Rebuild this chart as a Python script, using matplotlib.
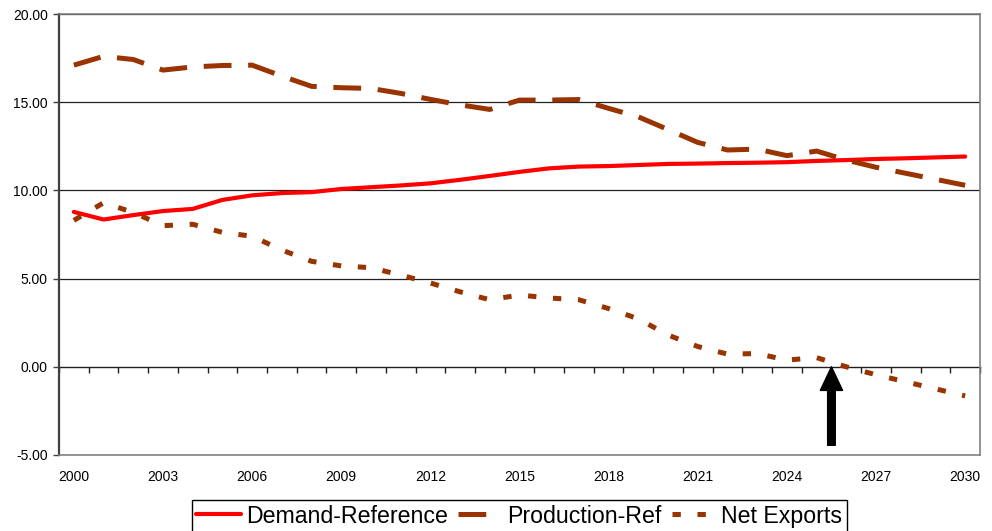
import matplotlib
matplotlib.use("Agg")
import matplotlib.pyplot as plt
import numpy as np

plt.rcParams['font.family'] = ['Liberation Sans', 'DejaVu Sans']
plt.rcParams['lines.scale_dashes'] = False

years = list(range(2000, 2031))

demand_ref = [8.78, 8.35, 8.60, 8.83, 8.95, 9.46, 9.72, 9.85, 9.90, 10.08,
              10.18, 10.28, 10.40, 10.60, 10.82, 11.05, 11.25, 11.35, 11.38, 11.44,
              11.50, 11.52, 11.55, 11.57, 11.60, 11.67, 11.72, 11.78, 11.82, 11.87,
              11.92]

production_ref = [17.10, 17.60, 17.42, 16.82, 17.00, 17.08, 17.10, 16.48, 15.90, 15.82,
                  15.78, 15.50, 15.16, 14.85, 14.59, 15.12, 15.12, 15.15, 14.65, 14.17,
                  13.45, 12.72, 12.29, 12.34, 11.97, 12.23, 11.72, 11.31, 10.97, 10.63,
                  10.29]

net_exports = [8.30, 9.30, 8.75, 8.00, 8.08, 7.62, 7.40, 6.62, 5.98, 5.72,
               5.62, 5.20, 4.75, 4.25, 3.80, 4.07, 3.90, 3.80, 3.30, 2.72,
               1.80, 1.15, 0.72, 0.75, 0.38, 0.52, 0.00, -0.45, -0.85, -1.25,
               -1.65]

year_labels = list(range(2000, 2031, 3))
peak_year = 2025.5

fig = plt.figure(figsize=(9.92, 5.31), dpi=100)
ax = fig.add_axes([59 / 992, 76 / 531, 921 / 992, 441 / 531])

ax.plot(years, demand_ref, color='#FF0000', lw=3.0, solid_capstyle='round',
        solid_joinstyle='round', label='Demand-Reference', zorder=3)
ax.plot(years, production_ref, color='#993300', lw=3.6, dashes=(20, 12),
        label='Production-Ref', zorder=3)
ax.plot(years, net_exports, color='#993300', lw=3.6, dashes=(6, 12),
        label='Net Exports', zorder=3)

ax.set_xlim(1999.5, 2030.5)
ax.set_ylim(-5, 20)

# y axis: labels with two decimals, horizontal gridlines
ax.set_yticks(np.arange(-5, 21, 5))
ax.set_yticklabels([f'{v:.2f}' for v in np.arange(-5, 21, 5)])
ax.tick_params(axis='y', direction='out', length=4, width=1, color='#404040',
               labelsize=10, pad=4)
for v in np.arange(5, 21, 5):
    ax.axhline(v, color='#202020', lw=0.9, zorder=1)

# category labels below the plot, tick marks along the zero line
ax.set_xticks(year_labels)
ax.set_xticklabels([str(y) for y in year_labels])
ax.tick_params(axis='x', length=0, labelsize=10, pad=11)

zero_axis = ax.secondary_xaxis(0.2)
zero_axis.set_xticks(np.arange(1999.5, 2031, 1))
zero_axis.tick_params(direction='out', length=4, width=1, color='#202020',
                      labelbottom=False)
zero_axis.spines['bottom'].set_color('#202020')
zero_axis.spines['bottom'].set_linewidth(1.0)

ax.spines['left'].set_color('#404040')
ax.spines['left'].set_linewidth(1.6)
for side in ('top', 'right', 'bottom'):
    ax.spines[side].set_color('#808080')
    ax.spines[side].set_linewidth(1.2)

ax.annotate('', xy=(peak_year, 0), xytext=(peak_year, -4.45),
            arrowprops=dict(facecolor='black', edgecolor='black', width=5.5,
                            headwidth=16, headlength=17, shrink=0),
            zorder=4)

leg = fig.legend(loc='upper center', bbox_to_anchor=(0.5235, 0.0585), ncol=3,
                 fontsize=16.7, frameon=True, fancybox=False, framealpha=1,
                 edgecolor='black', handlelength=1.9, handletextpad=0.22,
                 columnspacing=0.45, borderpad=0.2, borderaxespad=0)
leg.get_frame().set_linewidth(1.0)

fig.savefig('out.png', dpi=100)
